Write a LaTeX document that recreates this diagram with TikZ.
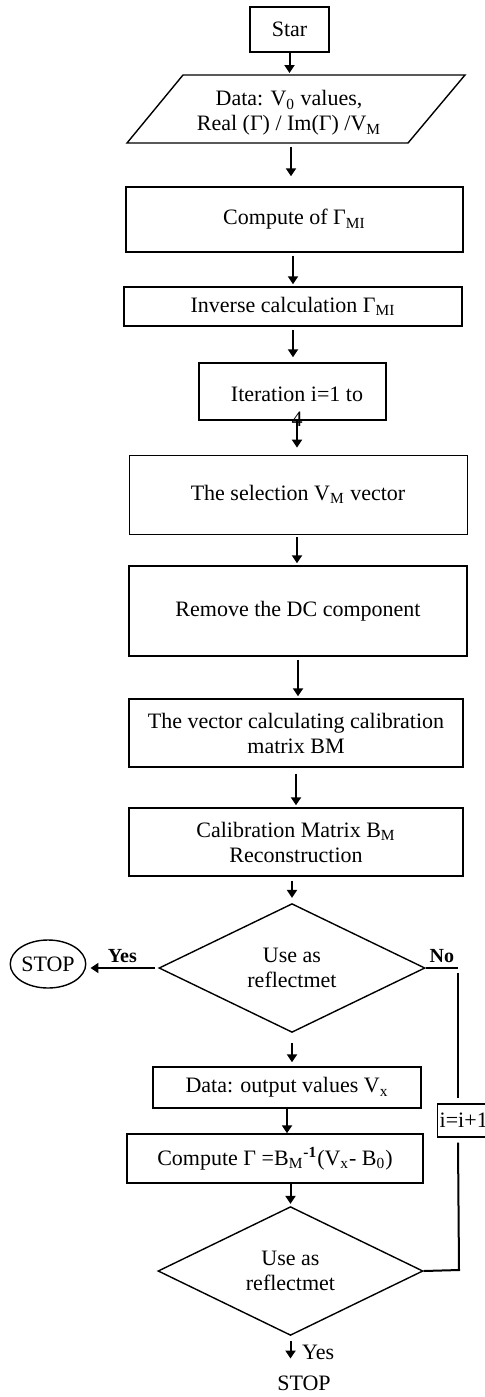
\documentclass[tikz,border=0pt]{standalone}
\usepackage{fontspec}
\setmainfont{Liberation Serif}
\usetikzlibrary{shapes.geometric,arrows.meta}
\tikzset{
  box/.style={draw, line width=0.7pt, rectangle, inner sep=1pt, align=center},
  dec/.style={draw, line width=0.7pt, diamond, inner sep=0pt, align=center},
  arr/.style={line width=1pt, -{Triangle[length=4pt,width=5pt]}, shorten <=1.5pt, shorten >=1pt},
  lnk/.style={line width=1pt},
}
\begin{document}
\begin{tikzpicture}[x=0.5pt,y=-0.5pt,font=\fontsize{11}{12.5}\selectfont]
\useasboundingbox (0,0) rectangle (485,1397);
% main column
\node[box, minimum width=39.5pt, minimum height=22.5pt] (star) at (289.5,29.5) {Star};
\draw[line width=0.7pt] (183,75) -- (465,75) -- (408,143) -- (127,143) -- cycle; % data input
\node[align=center] (datain) at (289,113) {Data: V\textsubscript{0} values,\\Real (Γ) / Im(Γ) /V\textsubscript{M}};
\coordinate (dintop) at (289,75);
\coordinate (dinbot) at (291,143);
\node[box, minimum width=168.5pt, minimum height=32.5pt] (compute) at (294.5,219.5) {Compute of Γ\textsubscript{MI}};
\node[box, minimum width=169pt, minimum height=19.5pt] (inverse) at (293,306.5) {Inverse calculation Γ\textsubscript{MI}};
\node[box, minimum width=93.5pt, minimum height=28.5pt] (iter) at (292.5,391.5) {};
\node[align=center] (itertxt) at (297,407) {Iteration i=1 to\\4};
\node[box, line width=0.4pt, minimum width=169pt, minimum height=39.5pt] (select) at (298,494.5) {The selection V\textsubscript{M} vector};
\node[box, minimum width=169pt, minimum height=45pt] (dcrem) at (298,611) {Remove the DC component};
\node[box, minimum width=167pt, minimum height=34pt] (vecbm) at (296,733) {The vector calculating calibration\\matrix BM};
\node[box, minimum width=167pt, minimum height=34pt] (calbm) at (296,842) {Calibration Matrix B\textsubscript{M}\\Reconstruction};
\node[dec, minimum width=133pt, minimum height=60pt] (dec1) at (292,968) {Use as\\reflectmet};
\node[draw, line width=0.7pt, ellipse, inner sep=0pt, minimum width=35pt, minimum height=24pt] (stop1) at (48,964) {STOP};
\node[box, minimum width=134pt, minimum height=20.5pt] (dataout) at (287,1087.5) {Data: output values V\textsubscript{x}};
\node[box, minimum width=148pt, minimum height=24.5pt] (computeg) at (275,1158.5) {Compute Γ =B\textsubscript{M}\textsuperscript{\textbf{-1}}(V\textsubscript{x}- B\textsubscript{0})};
\node[dec, minimum width=132.5pt, minimum height=61pt] (dec2) at (290.5,1271) {Use as\\reflectmet};
\node (stop2) at (304,1383) {STOP};
% loop back box
\node[box, anchor=west, inner xsep=1pt, text width=27pt, align=left, minimum height=16.5pt] (incr) at (437,1120.5) {i=i+1};
\coordinate (nopt) at (458,968);
\coordinate (backpt) at (459,1270);
% arrows
\draw[arr, shorten <=0pt] (star.south) -- (star.south |- dintop);
\draw[arr, shorten <=2pt, shorten >=5pt] (dinbot) -- (dinbot |- compute.north);
\draw[arr] (compute.south -| inverse) -- (inverse.north);
\draw[arr, shorten >=2.5pt] (inverse.south) -- (inverse.south |- iter.north);
\draw[arr, shorten <=0pt, shorten >=3.5pt] (itertxt |- iter.south) -- (itertxt |- select.north);
\draw[arr] (select.south -| itertxt) -- (itertxt |- dcrem.north);
\draw[arr] (dcrem.south) -- (dcrem.south |- vecbm.north);
\draw[arr, shorten <=3pt] (vecbm.south) -- (vecbm.south |- calbm.north);
\draw[arr, shorten <=2pt, shorten >=2.5pt] (calbm.south -| dec1) -- (dec1.north);
\draw[arr, shorten >=2pt] (dec1.west) -- node[above=-1pt, font=\bfseries] {Yes} (stop1.east |- dec1.west);
\draw[arr, shorten <=5pt, shorten >=2pt] (dec1.south) -- (dec1.south |- dataout.north);
\draw[arr, shorten <=0pt, shorten >=0pt] (dataout.south) -- (dataout.south |- computeg.north);
\draw[arr, shorten <=0pt] (computeg.south -| dec2) -- (dec2.north);
\draw[arr, shorten <=2.5pt, shorten >=5pt] (dec2.south) -- node[right=2pt] {Yes} (dec2.south |- stop2.north);
% no branch
\draw[lnk] (dec1.east) -- node[above=-1pt, font=\bfseries] {No} (nopt);
\draw[lnk, shorten >=2.5pt] (nopt) ++(0,5) -- (incr.north -| nopt);
\draw[lnk] (incr.south -| nopt) ++(0,5) -- (backpt) -- (dec2.east);
\end{tikzpicture}
\end{document}
